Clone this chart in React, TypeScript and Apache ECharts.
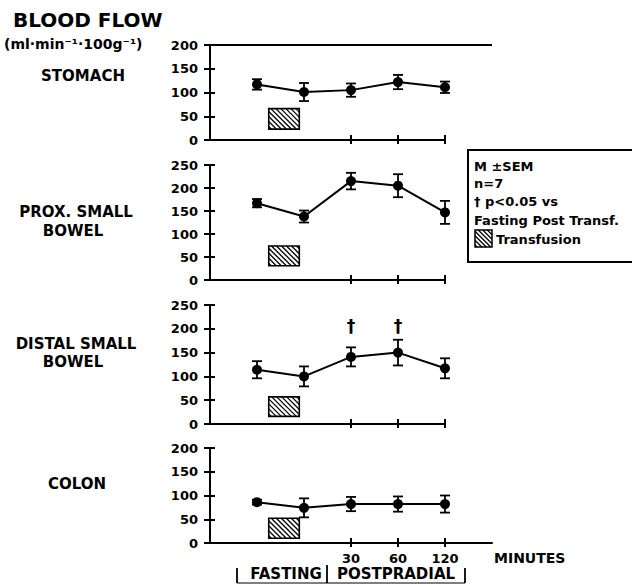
import React, { useEffect, useRef } from "react";
import * as echarts from "echarts";

// ---- data ----
const positions = [0, 1, 2, 3, 4]; // fasting, post-transfusion, 30, 60, 120 min
const minuteTicks = [2, 3, 4];
const minuteLabels = ["30", "60", "120"];

const stomachMean = [117, 101, 105, 122, 111];
const stomachSem = [11, 19, 14, 15, 12];

const proxMean = [167, 138, 215, 205, 147];
const proxSem = [9, 13, 18, 25, 25];

const distalMean = [114, 100, 141, 150, 117];
const distalSem = [18, 21, 20, 27, 21];

const colonMean = [86, 74, 82, 82, 82];
const colonSem = [5, 20, 15, 16, 18];

const transfusionX = [0.25, 0.9];
const stomachTransY = [23, 66];
const proxTransY = [31, 74];
const distalTransY = [16, 57];
const colonTransY = [10, 52];

const daggerPositions = [2, 3];
const daggerY = 205;

const stomachTicks = [0, 50, 100, 150, 200];
const bowelTicks = [0, 50, 100, 150, 200, 250];

const FONT = "DejaVu Sans";

function hatch(x: number, y: number, w: number, h: number, step: number) {
  const out: any[] = [];
  for (let c = -h + step / 2; c < w; c += step) {
    const ys = Math.max(0, -c);
    const ye = Math.min(h, w - c);
    if (ye > ys) {
      out.push({ x1: x + ys + c, y1: y + ys, x2: x + ye + c, y2: y + ye });
    }
  }
  return out;
}

export default function App() {
  const ref = useRef<HTMLDivElement>(null);
  useEffect(() => {
    if (!ref.current) return;
    const chart = echarts.init(ref.current, undefined, { renderer: "svg" });

    const panels = [
      { mean: stomachMean, sem: stomachSem, ticks: stomachTicks, trans: stomachTransY, top: 45, height: 95 },
      { mean: proxMean, sem: proxSem, ticks: bowelTicks, trans: proxTransY, top: 165, height: 115 },
      { mean: distalMean, sem: distalSem, ticks: bowelTicks, trans: distalTransY, top: 305, height: 119 },
      { mean: colonMean, sem: colonSem, ticks: stomachTicks, trans: colonTransY, top: 448, height: 95 },
    ];

    const grids: any[] = [];
    const xAxes: any[] = [];
    const yAxes: any[] = [];
    const series: any[] = [];
    const lineStyle = { color: "#000", width: 2 };

    panels.forEach((p, i) => {
      const yMax = p.ticks[p.ticks.length - 1];
      grids.push({ left: 210, width: 282, top: p.top, height: p.height });
      xAxes.push({
        gridIndex: i, type: "value", min: -1, max: 5, position: "bottom", offset: 0,
        axisLine: { show: i === 3, onZero: false, lineStyle },
        splitLine: { show: false },
        axisTick: { show: true, inside: true, length: 5, customValues: minuteTicks, lineStyle },
        axisLabel: {
          show: i === 3, customValues: minuteTicks, margin: 9,
          formatter: (v: number) => minuteLabels[minuteTicks.indexOf(v)] ?? "",
          color: "#000", fontFamily: FONT, fontWeight: "bold", fontSize: 13,
        },
      });
      xAxes.push({
        gridIndex: i, type: "value", min: -1, max: 5, position: "bottom", offset: 0,
        axisLine: { show: false, onZero: false }, splitLine: { show: false },
        axisTick: { show: true, inside: false, length: 4, customValues: minuteTicks, lineStyle },
        axisLabel: { show: false },
      });
      yAxes.push({
        gridIndex: i, type: "value", min: 0, max: yMax, interval: 50, position: "left", offset: 0,
        axisLine: { show: true, onZero: false, lineStyle },
        splitLine: { show: false },
        axisTick: { show: true, inside: true, length: 5, lineStyle },
        axisLabel: { color: "#000", fontFamily: FONT, fontWeight: "bold", fontSize: 13, margin: 12 },
      });
      yAxes.push({
        gridIndex: i, type: "value", min: 0, max: yMax, interval: 50, position: "left", offset: 0,
        axisLine: { show: false, onZero: false }, splitLine: { show: false },
        axisTick: { show: true, inside: false, length: 6, lineStyle },
        axisLabel: { show: false },
      });

      const xi = 2 * i;
      const yi = 2 * i;

      // transfusion hatched box
      series.push({
        type: "custom", xAxisIndex: xi, yAxisIndex: yi, z: 1,
        data: [[transfusionX[0], transfusionX[1], p.trans[0], p.trans[1]]],
        encode: { x: [0, 1], y: [2, 3] },
        renderItem: (params: any, api: any) => {
          const tl = api.coord([api.value(0), api.value(3)]);
          const br = api.coord([api.value(1), api.value(2)]);
          const w = br[0] - tl[0];
          const h = br[1] - tl[1];
          const children: any[] = [
            { type: "rect", shape: { x: tl[0], y: tl[1], width: w, height: h }, style: { fill: "#fff", stroke: "#000", lineWidth: 1.6 } },
          ];
          hatch(tl[0], tl[1], w, h, 5).forEach((s) =>
            children.push({ type: "line", shape: s, style: { stroke: "#000", lineWidth: 1.3 } })
          );
          return { type: "group", children };
        },
      });

      // frame lines
      if (i < 3) {
        series.push({
          type: "line", xAxisIndex: xi, yAxisIndex: yi, clip: false, silent: true,
          symbol: "none", lineStyle: { color: "#000", width: 2 },
          data: [[-1, 0], [4, 0]],
        });
      }
      if (i === 0) {
        series.push({
          type: "line", xAxisIndex: xi, yAxisIndex: yi, clip: false, silent: true,
          symbol: "none", lineStyle: { color: "#000", width: 2 },
          data: [[-1, yMax], [5, yMax]],
        });
      }

      // error bars
      series.push({
        type: "custom", xAxisIndex: xi, yAxisIndex: yi, z: 3,
        data: positions.map((x, k) => [x, p.mean[k], p.sem[k]]),
        encode: { x: 0, y: 1 },
        renderItem: (params: any, api: any) => {
          const x = api.value(0), m = api.value(1), s = api.value(2);
          const top = api.coord([x, m + s]);
          const bot = api.coord([x, m - s]);
          const cw = 5;
          const st = { stroke: "#000", lineWidth: 1.8 };
          return {
            type: "group",
            children: [
              { type: "line", shape: { x1: top[0], y1: top[1], x2: bot[0], y2: bot[1] }, style: st },
              { type: "line", shape: { x1: top[0] - cw, y1: top[1], x2: top[0] + cw, y2: top[1] }, style: st },
              { type: "line", shape: { x1: bot[0] - cw, y1: bot[1], x2: bot[0] + cw, y2: bot[1] }, style: st },
            ],
          };
        },
      });

      // means
      series.push({
        type: "line", xAxisIndex: xi, yAxisIndex: yi, z: 4,
        data: positions.map((x, k) => [x, p.mean[k]]),
        symbol: "circle", symbolSize: 10, showSymbol: true,
        lineStyle: { color: "#000", width: 2 },
        itemStyle: { color: "#000" },
      });

      if (i === 2) {
        series.push({
          type: "custom", xAxisIndex: xi, yAxisIndex: yi, z: 5,
          data: daggerPositions.map((x) => [x, daggerY]),
          encode: { x: 0, y: 1 },
          renderItem: (params: any, api: any) => {
            const pt = api.coord([api.value(0), api.value(1)]);
            return {
              type: "text", x: pt[0], y: pt[1],
              style: { text: "†", fill: "#000", font: `bold 17px "${FONT}"`, textAlign: "center", textVerticalAlign: "middle" },
            };
          },
        });
      }
    });

    const txt = (text: string, x: number, y: number, size: number, align = "center") => ({
      type: "text", x, y,
      style: { text, fill: "#000", font: `bold ${size}px "${FONT}"`, textAlign: align, textVerticalAlign: "middle" },
    });

    const legendHatch = hatch(475, 230, 17, 17, 4.5).map((s) => ({
      type: "line", shape: s, style: { stroke: "#000", lineWidth: 1.2 },
    }));

    const graphic: any[] = [
      txt("BLOOD FLOW", 13, 20, 20, "left"),
      txt("(ml·min⁻¹·100g⁻¹)", 4, 44, 14, "left"),
      txt("STOMACH", 83, 76, 15),
      txt("PROX. SMALL", 76, 212, 15),
      txt("BOWEL", 73, 231, 15),
      txt("DISTAL SMALL", 76, 344, 15),
      txt("BOWEL", 73, 362, 15),
      txt("COLON", 77, 484, 15),
      txt("MINUTES", 494, 558, 14, "left"),
      txt("FASTING", 286, 574, 15),
      txt("POSTPRADIAL", 396, 574, 15),
      { type: "line", shape: { x1: 237, y1: 568, x2: 237, y2: 583 }, style: { stroke: "#000", lineWidth: 1.8 } },
      { type: "line", shape: { x1: 327, y1: 565, x2: 327, y2: 583 }, style: { stroke: "#000", lineWidth: 1.8 } },
      { type: "line", shape: { x1: 465, y1: 568, x2: 465, y2: 583 }, style: { stroke: "#000", lineWidth: 1.8 } },
      { type: "line", shape: { x1: 237, y1: 583, x2: 465, y2: 583 }, style: { stroke: "#000", lineWidth: 1.2 } },
      {
        type: "rect", shape: { x: 468, y: 150, width: 175, height: 112 },
        style: { fill: "#fff", stroke: "#000", lineWidth: 2 },
      },
      txt("M ±SEM", 474, 166, 13, "left"),
      txt("n=7", 474, 183, 13, "left"),
      txt("† p<0.05 vs", 474, 201, 13, "left"),
      txt("Fasting Post Transf.", 474, 220, 13, "left"),
      { type: "rect", shape: { x: 475, y: 230, width: 17, height: 17 }, style: { fill: "#fff", stroke: "#000", lineWidth: 1.5 } },
      ...legendHatch,
      txt("Transfusion", 496, 239, 13, "left"),
    ];

    chart.setOption({
      animation: false,
      backgroundColor: "#fff",
      grid: grids,
      xAxis: xAxes,
      yAxis: yAxes,
      series,
      graphic,
    });
    return () => chart.dispose();
  }, []);
  return <div ref={ref} style={{ position: "absolute", left: 0, top: 0, width: 632, height: 586 }} />;
}
